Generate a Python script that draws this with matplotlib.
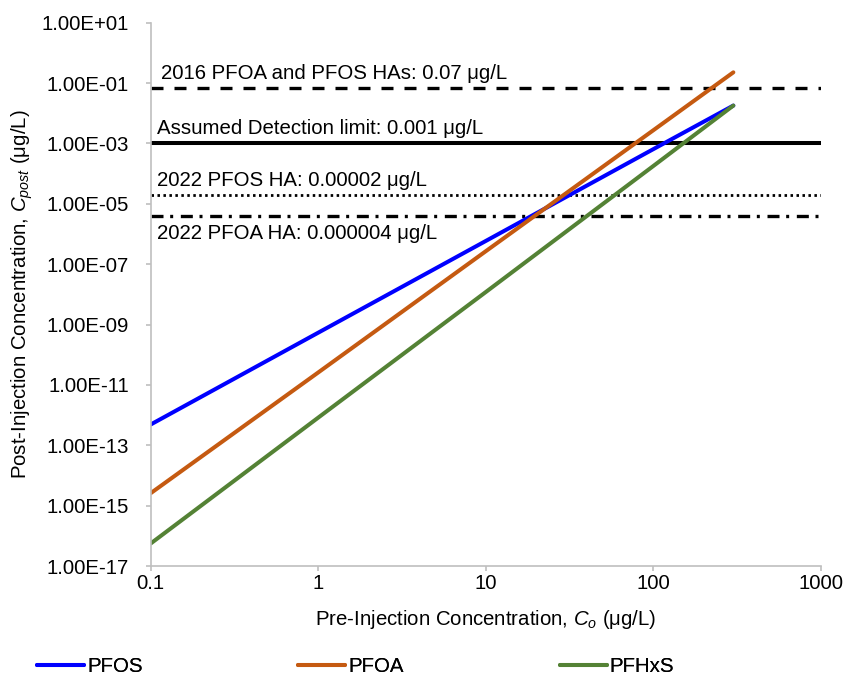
import matplotlib
matplotlib.use("Agg")
import matplotlib.pyplot as plt
from matplotlib.ticker import FixedLocator, FuncFormatter, NullLocator

plt.rcParams['font.family'] = ['Liberation Sans', 'DejaVu Sans']
plt.rcParams['mathtext.fontset'] = 'custom'
plt.rcParams['mathtext.rm'] = 'Liberation Sans'
plt.rcParams['mathtext.it'] = 'Liberation Sans:italic'

# Data
c0 = [0.1, 1, 10, 100, 300]
pfos = [4.9e-13, 5.4e-10, 5.9e-7, 6.5e-4, 1.8e-2]
pfoa = [2.6e-15, 2.6e-11, 2.7e-7, 2.75e-3, 0.227]
pfhxs = [5.6e-17, 8.3e-13, 1.2e-8, 1.8e-4, 1.8e-2]
series_names = ['PFOS', 'PFOA', 'PFHxS']

ha_values = [0.07, 0.001, 0.00002, 0.000004]
ha_labels = ['2016 PFOA and PFOS HAs: 0.07 \u03bcg/L',
             'Assumed Detection limit: 0.001 \u03bcg/L',
             '2022 PFOS HA: 0.00002 \u03bcg/L',
             '2022 PFOA HA: 0.000004 \u03bcg/L']
label_x = [0.1147, 0.109, 0.109, 0.109]
label_y = [0.133, 2.05e-3, 3.9e-5, 6.6e-7]

y_ticks = [1e1, 1e-1, 1e-3, 1e-5, 1e-7, 1e-9, 1e-11, 1e-13, 1e-15, 1e-17]
x_ticks = [0.1, 1, 10, 100, 1000]
x_ticklabels = ['0.1', '1', '10', '100', '1000']

FS = 14.7

fig = plt.figure(figsize=(8.44, 6.82), dpi=100)
ax = fig.add_axes([0.1786, 0.170, 0.9727 - 0.1786, 0.9667 - 0.170])
ax.set_xscale('log')
ax.set_yscale('log')
ax.set_xlim(0.1, 1000)
ax.set_ylim(1e-17, 1e1)

# Horizontal reference lines
styles = [dict(linestyle=(0, (3.6, 3.3)), lw=2.4),
          dict(linestyle='-', lw=2.9),
          dict(linestyle=(0, (0.9, 1.25)), lw=2.0),
          dict(linestyle=(0, (3.6, 2.0, 0.9, 2.3)), lw=2.4)]
for v, st in zip(ha_values, styles):
    ax.axhline(v, color='black', **st)

colors = ['#0000FF', '#C55A11', '#548235']
for ys, name, col in zip([pfos, pfoa, pfhxs], series_names, colors):
    ax.plot(c0, ys, color=col, lw=2.9, label=name, solid_capstyle='round')

# Annotations
for lx, ly, txt in zip(label_x, label_y, ha_labels):
    ax.text(lx, ly, txt, fontsize=FS, va='baseline', ha='left')

for s in ['top', 'right']:
    ax.spines[s].set_visible(False)
for s in ['left', 'bottom']:
    ax.spines[s].set_color('#BFBFBF')
    ax.spines[s].set_linewidth(1.2)

ax.yaxis.set_major_locator(FixedLocator(y_ticks))
ax.yaxis.set_minor_locator(NullLocator())
ax.yaxis.set_major_formatter(FuncFormatter(lambda v, p: '%.2E' % v))
ax.xaxis.set_major_locator(FixedLocator(x_ticks))
ax.xaxis.set_minor_locator(NullLocator())
ax.set_xticklabels(x_ticklabels)
ax.tick_params(axis='both', which='major', direction='out', length=3.6, width=1.2,
               color='#BFBFBF', labelsize=FS, labelcolor='black')
ax.tick_params(axis='y', pad=12)
ax.tick_params(axis='x', pad=2)

ax.set_xlabel('Pre-Injection Concentration, $\\mathit{C}_{\\mathit{o}}$ (\u03bcg/L)', fontsize=FS)
ax.set_ylabel('Post-Injection Concentration, $\\mathit{C}_{\\mathit{post}}$ (\u03bcg/L)', fontsize=FS)
ax.xaxis.set_label_coords(0.5, -0.078)
ax.yaxis.set_label_coords(-0.172, 0.5)

# Legend entries placed along the bottom
legend_x = [0.044, 0.353, 0.663]
handles, labels = ax.get_legend_handles_labels()
for h, l, lx in zip(handles, labels, legend_x):
    leg = fig.legend([h], [l], loc='center left', bbox_to_anchor=(lx, 0.022),
                     frameon=False, fontsize=FS, handlelength=2.3, handletextpad=0.15,
                     borderpad=0, borderaxespad=0)
    fig.add_artist(leg)

fig.savefig('out.png', dpi=100)
